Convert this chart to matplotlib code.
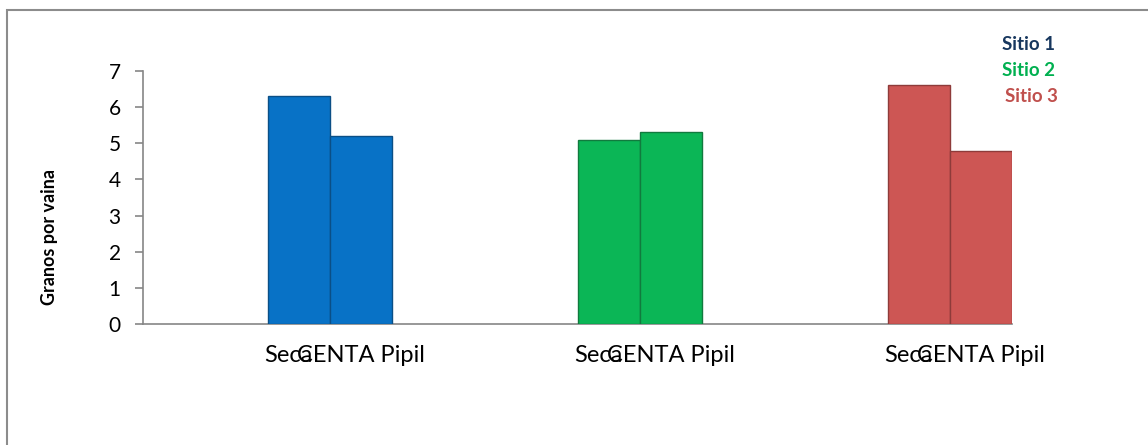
import numpy as np
import matplotlib
matplotlib.use('Agg')
import matplotlib.pyplot as plt
from matplotlib.patches import Rectangle

# datos
sitios = ['Sitio 1', 'Sitio 2', 'Sitio 3']
variedades = ['Seca', 'CENTA Pipil']
seca = [6.3, 5.1, 6.6]
centa_pipil = [5.2, 5.3, 4.8]
colores_sitio = ['#0872C6', '#0BB656', '#CD5654']
bordes_sitio = ['#0B4F86', '#117A3E', '#8E3B3A']
colores_texto = ['#17375E', '#00B050', '#C0504D']
yticks = list(range(0, 8))

plt.rcParams['font.family'] = ['Lato', 'DejaVu Sans']

fig = plt.figure(figsize=(11.48, 4.45), dpi=100, facecolor='w')
ax = fig.add_axes([143/1148, 1 - 324/445, (1012-143)/1148, (324-71)/445])

W = 0.2
x = np.arange(len(sitios))
for i in range(len(sitios)):
    ax.bar(x[i] - W/2, seca[i], W, color=colores_sitio[i], edgecolor=bordes_sitio[i], linewidth=1.0, zorder=3)
    ax.bar(x[i] + W/2, centa_pipil[i], W, color=colores_sitio[i], edgecolor=bordes_sitio[i], linewidth=1.0, zorder=3)

ax.set_xlim(-0.603, 2.2)
ax.set_ylim(0, 7)
ax.set_yticks(yticks)
ax.set_yticklabels([str(v) for v in yticks], fontsize=15)

pos = []
labs = []
for i in range(len(sitios)):
    pos += [x[i] - W/2 - 0.035, x[i] + W/2]
    labs += variedades
ax.set_xticks(pos)
ax.set_xticklabels(labs, fontsize=17)
ax.tick_params(axis='x', length=0, pad=15)
ax.tick_params(axis='y', length=6, width=1.2, color='#868686', pad=10)

for s in ['top', 'right']:
    ax.spines[s].set_visible(False)
for s in ['left', 'bottom']:
    ax.spines[s].set_color('#868686')
    ax.spines[s].set_linewidth(1.2)

fig.text(50/1148, 1 - 237/445, 'Granos por vaina', rotation=90, fontsize=13,
         fontweight='bold', ha='center', va='center')

ley_x = [1028, 1028, 1031]
ley_y = [44, 70, 97]
for i in range(len(sitios)):
    fig.text(ley_x[i]/1148, 1 - ley_y[i]/445, sitios[i], color=colores_texto[i],
             fontsize=13.5, fontweight='bold', ha='center', va='center')

# marco exterior
fig.patches.append(Rectangle((7/1148, -0.05), 1.1, 1.05 - 10/445, transform=fig.transFigure,
                             fill=False, edgecolor='#8c8c8c', linewidth=1.5))

fig.savefig('out.png', dpi=100)
